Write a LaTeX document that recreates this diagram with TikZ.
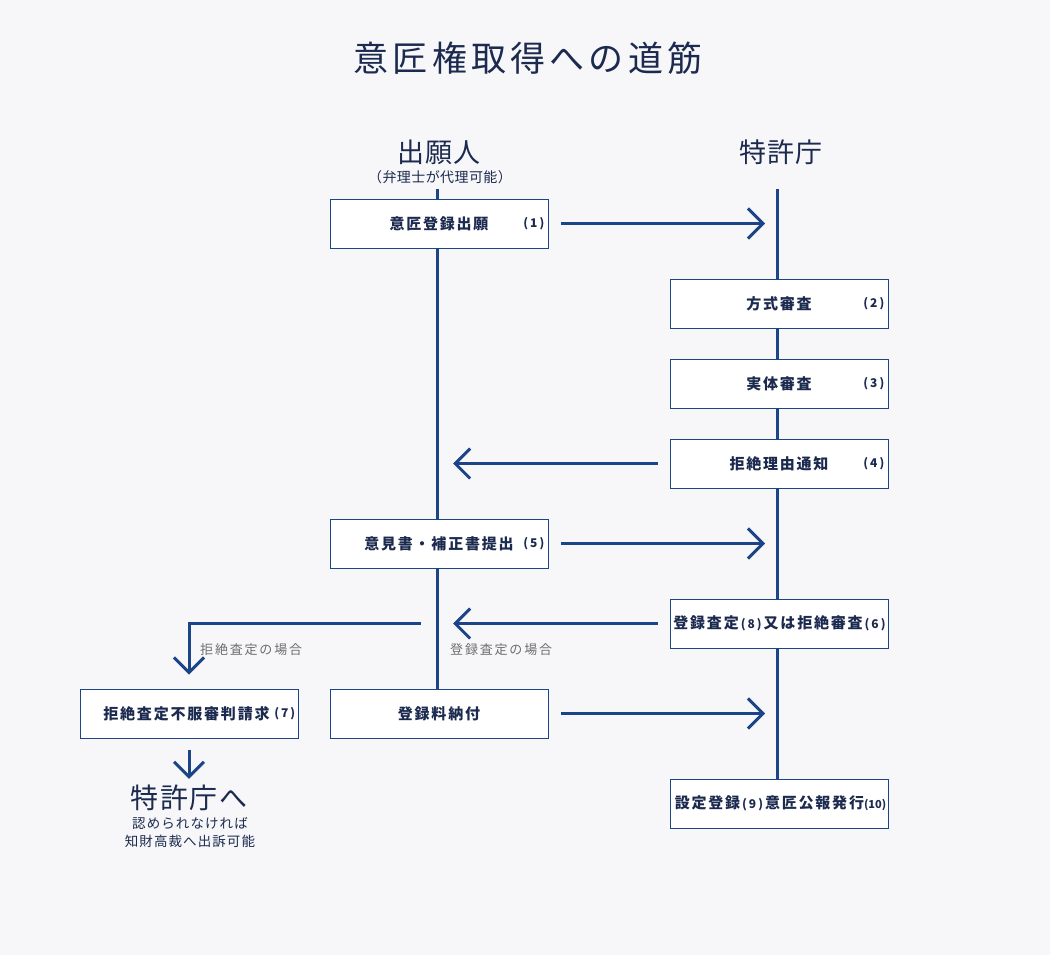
\documentclass[tikz,border=0pt]{standalone}
\usepackage{fontspec}
\setmainfont{Noto Sans CJK JP}
\newfontfamily\numf{Noto Sans CJK JP}
\usetikzlibrary{arrows.meta}
\definecolor{bg}{HTML}{F7F7F9}
\definecolor{ln}{HTML}{1C4587}
\definecolor{tx}{HTML}{1B2A4E}
\definecolor{gr}{HTML}{6E6E6E}
\newcommand{\nb}[1]{{\numf\bfseries\fontsize{12}{12}\selectfont\,(\,#1\,)\,}}
\newcommand{\nbs}[1]{{\numf\bfseries\fontsize{11}{11}\selectfont(#1)}}
\tikzset{
  box/.style={draw=ln, line width=1pt, fill=white, minimum width=218pt, minimum height=49pt, inner sep=0pt, text=tx,
    font=\fontsize{15}{15}\selectfont\bfseries\addfontfeatures{LetterSpace=12}},
  num/.style={text=tx, inner sep=0pt, anchor=east, font=\numf\bfseries\fontsize{12}{12}\selectfont},
  vline/.style={draw=ln, line width=3pt},
  arr/.style={draw=ln, line width=3pt, -{Straight Barb[length=15pt,width=30pt]}},
  head/.style={text=tx, inner sep=0pt, font=\fontsize{27}{27}\selectfont\addfontfeatures{LetterSpace=5}},
  sub/.style={text=tx, inner sep=0pt, font=\fontsize{13.5}{14}\selectfont\addfontfeatures{LetterSpace=8}},
  lab/.style={text=gr, inner sep=0pt, anchor=west, font=\fontsize{13}{13}\selectfont\addfontfeatures{LetterSpace=14}},
}
\begin{document}
\begin{tikzpicture}[x=1pt,y=-1pt]
\useasboundingbox[fill=bg] (0,0) rectangle (1050,955);
% title
\node[text=tx, inner sep=0pt, font=\fontsize{35}{35}\selectfont\addfontfeatures{LetterSpace=12}] (title) at (528,58) {意匠権取得への道筋};
% headers
\node[head] (app) at (439,152) {出願人};
\node[sub, font=\fontsize{14}{14}\selectfont\addfontfeatures{LetterSpace=3}] (appsub) at (440,177) {（弁理士が代理可能）};
\node[head] (jpo) at (781,152) {特許庁};
% line anchors
\coordinate (Ltop) at (437,189);
\coordinate (Rtop) at (777,189);
\coordinate (Lend) at (437,689);
\coordinate (Rend) at (777,779);
\draw[vline] (Ltop) -- (Lend);
\draw[vline] (Rtop) -- (Rend);
% boxes
\node[box] (b1) at (439,223.5) {意匠登録出願};
\node[num] at ([xshift=-4]b1.east) {(\,1\,)};
\node[box] (b2) at (779,303.5) {方式審査};
\node[num] at ([xshift=-4]b2.east) {(\,2\,)};
\node[box] (b3) at (779,383.5) {実体審査};
\node[num] at ([xshift=-4]b3.east) {(\,3\,)};
\node[box] (b4) at (779,463.5) {拒絶理由通知};
\node[num] at ([xshift=-4]b4.east) {(\,4\,)};
\node[box] (b5) at (439,543.5) {意見書・補正書提出};
\node[num] at ([xshift=-4]b5.east) {(\,5\,)};
\node[box] (b6) at (779,623.5) {\hspace*{3pt}登録査定\nb{8}又は拒絶審査\nb{6}};
\node[box] (b8) at (439,713.5) {登録料納付};
\node[box] (b7) at (189,713.5) {\hspace*{-5pt}拒絶査定不服審判請求};
\node[num] at ([xshift=-3]b7.east) {(\,7\,)};
\node[box] (b9) at (779,803.5) {\hspace*{3pt}設定登録\nb{9}意匠公報発行\nbs{10}};
% arrows
\draw[arr] ([xshift=12]b1.east) -- ([xshift=-12]b1.east -| Rtop);
\draw[arr] ([xshift=-12]b4.west) -- ([xshift=16]b4.west -| Ltop);
\draw[arr] ([xshift=12]b5.east) -- ([xshift=-12]b5.east -| Rtop);
\draw[arr] ([xshift=-12]b6.west) -- ([xshift=16]b6.west -| Ltop);
\coordinate (br) at ([xshift=-16]b6.west -| Ltop);
\draw[arr] (br) -| ([yshift=14]b7.north);
\draw[arr] ([xshift=12]b8.east) -- ([xshift=-12]b8.east -| Rtop);
% labels
\node[lab] (l1) at (200,650) {拒絶査定の場合};
\node[lab] (l2) at (450,650) {登録査定の場合};
% bottom left
\node[head, font=\fontsize{28}{28}\selectfont\addfontfeatures{LetterSpace=5}] (to) at (189,798) {特許庁へ};
\draw[arr] ([yshift=-11]b7.south) -- ([yshift=6]to.north);
\node[sub] (t1) at (190,823) {認められなければ};
\node[sub] (t2) at (190,841) {知財高裁へ出訴可能};
\end{tikzpicture}
\end{document}
